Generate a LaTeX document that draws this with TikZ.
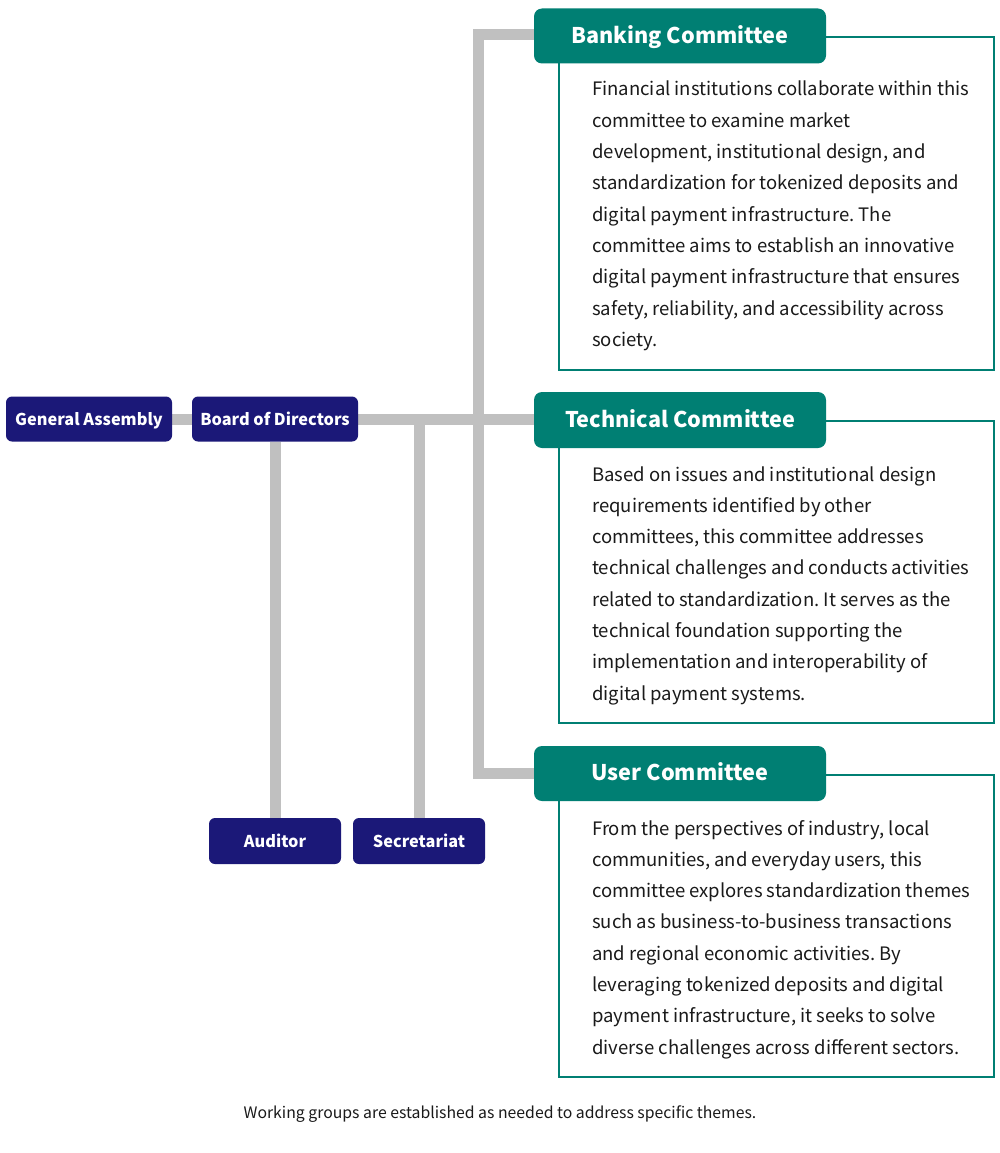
\documentclass[tikz,border=0pt]{standalone}
\usepackage{fontspec}
\setmainfont{Noto Sans CJK JP}
\frenchspacing
\usetikzlibrary{backgrounds}
\definecolor{navy}{HTML}{1B1878}
\definecolor{teal}{HTML}{007F73}
\definecolor{conn}{HTML}{C0C0C0}
\definecolor{ink}{HTML}{1A1A1A}
\tikzset{
  orgbox/.style={fill=navy, rounded corners=6pt, inner sep=0pt, text=white,
    font=\fontsize{16.3}{19}\selectfont\bfseries, minimum height=46pt,
    text height=13.6pt, text depth=1.2pt},
  commhead/.style={fill=teal, rounded corners=8pt, inner sep=0pt, text=white,
    font=\fontsize{21.6}{26}\selectfont\bfseries, minimum width=292pt, minimum height=55pt,
    text height=17pt, text depth=2.6pt},
  descbox/.style={draw=teal, line width=2pt, fill=white},
  bodytext/.style={anchor=base west, inner sep=0pt, text=ink, font=\fontsize{18.5}{22}\selectfont},
  link/.style={draw=conn, line width=11pt, line join=miter},
  note/.style={inner sep=0pt, text=ink, font=\fontsize{15.8}{19}\selectfont}
}
\begin{document}
\begin{tikzpicture}[x=1pt, y=-1pt]
\useasboundingbox (0,0) rectangle (1000,1153);

% description boxes
\draw[descbox] (559,37) rectangle (994,370);
\draw[descbox] (559,421) rectangle (994,723);
\draw[descbox] (559,775) rectangle (994,1077);

% organisation boxes
\node[orgbox, minimum width=166pt, minimum height=45pt] (ga) at (89,419) {General Assembly};
\node[orgbox, minimum width=166pt, minimum height=45pt] (bod) at (275,419) {Board of Directors};
\node[orgbox, minimum width=132pt] (aud) at (275,841) {Auditor};
\node[orgbox, minimum width=132pt] (sec) at (419,841) {Secretariat};

% committee headers
\node[commhead] (bank) at (680,36) {Banking Committee};
\node[commhead, minimum height=56pt] (tech) at (680,420) {Technical Committee};
\node[commhead] (user) at (680,773.5) {User Committee};

% connectors
\begin{pgfonlayer}{background}
\fill[white] (0,0) rectangle (1000,1153);
\draw[link] (ga.east) -- (bod.west);
\draw[link] (bod.east) -- (bod.east -| tech.west);
\draw[link] (bod.south) -- (aud.north);
\draw[link] (sec.north) -- (sec.north |- bod.east);
\draw[link] ([yshift=1.5pt]bank.west) -- ++(-55,0) |- (user.west);
\end{pgfonlayer}

% body texts
\foreach \t [count=\i] in {
  {Financial institutions collaborate within this},
  {committee to examine market},
  {development, institutional design, and},
  {standardization for tokenized deposits and},
  {digital payment infrastructure. The},
  {committee aims to establish an innovative},
  {digital payment infrastructure that ensures},
  {safety, reliability, and accessibility across},
  {society.}}
  \node[bodytext] (bank-t\i) at (592,{96+31.3*(\i-1)}) {\t};

\foreach \t [count=\i] in {
  {Based on issues and institutional design},
  {requirements identified by other},
  {committees, this committee addresses},
  {technical challenges and conducts activities},
  {related to standardization. It serves as the},
  {technical foundation supporting the},
  {implementation and interoperability of},
  {digital payment systems.}}
  \node[bodytext] (tech-t\i) at (592,{481+31.3*(\i-1)}) {\t};

\foreach \t [count=\i] in {
  {From the perspectives of industry, local},
  {communities, and everyday users, this},
  {committee explores standardization themes},
  {such as business-to-business transactions},
  {and regional economic activities. By},
  {leveraging tokenized deposits and digital},
  {payment infrastructure, it seeks to solve},
  {diverse challenges across different sectors.}}
  \node[bodytext] (user-t\i) at (592,{835+31.3*(\i-1)}) {\t};

\node[note, anchor=base] (foot) at (500,1118) {Working groups are established as needed to address specific themes.};
\end{tikzpicture}
\end{document}
